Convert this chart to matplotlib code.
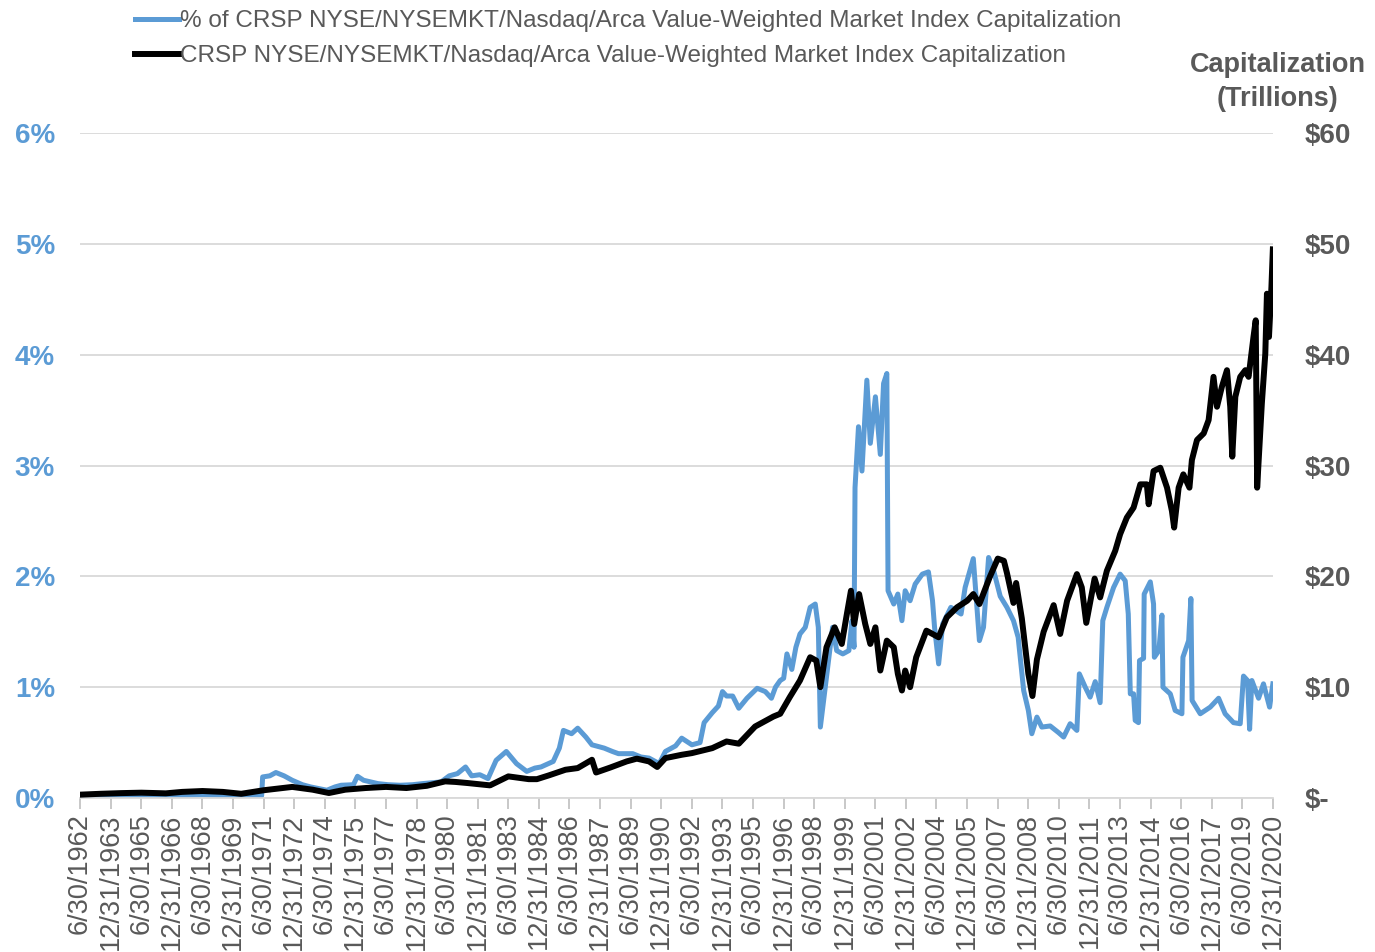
import matplotlib
matplotlib.use('Agg')
import matplotlib.pyplot as plt
from datetime import datetime

plt.rcParams['font.family'] = ['Liberation Sans', 'DejaVu Sans']

# Datos
pct_years = [1962.49, 1963.5, 1964.5, 1965.5, 1966.5, 1967.5, 1968.5, 1969.5, 1970.5, 1971.4,
             1971.45, 1971.8, 1972.1, 1972.5, 1972.9, 1973.4, 1973.8, 1974.6, 1975.0, 1975.3,
             1975.9, 1976.1, 1976.4, 1977.1, 1977.6, 1978.2, 1978.8, 1979.3, 1980.2, 1980.6,
             1981.0, 1981.4, 1981.7, 1982.1, 1982.5, 1982.9, 1983.4, 1983.9, 1984.4, 1984.8,
             1985.1, 1985.7, 1986.0, 1986.2, 1986.6, 1986.9, 1987.3, 1987.6, 1988.2, 1988.6,
             1988.9, 1989.6, 1990.0, 1990.4, 1990.9, 1991.2, 1991.7, 1992.0, 1992.5, 1992.9,
             1993.1, 1993.5, 1993.8, 1994.0, 1994.2, 1994.5, 1994.8, 1995.2, 1995.7, 1996.1,
             1996.4, 1996.6, 1996.83, 1997.0, 1997.16, 1997.4, 1997.6, 1997.8, 1998.06, 1998.3,
             1998.55, 1998.7, 1998.8, 1999.0, 1999.4, 1999.6, 1999.9, 2000.2, 2000.35, 2000.45,
             2000.5, 2000.67, 2000.84, 2001.08, 2001.25, 2001.5, 2001.74, 2001.9, 2002.06, 2002.12,
             2002.4, 2002.6, 2002.8, 2002.96, 2003.2, 2003.45, 2003.8, 2004.1, 2004.3, 2004.4,
             2004.6, 2004.8, 2005.2, 2005.7, 2005.9, 2006.3, 2006.6, 2006.8, 2007.05, 2007.3,
             2007.62, 2007.95, 2008.27, 2008.5, 2008.77, 2009.0, 2009.17, 2009.42, 2009.66, 2010.07,
             2010.48, 2010.73, 2011.05, 2011.38, 2011.5, 2011.79, 2012.03, 2012.28, 2012.52, 2012.65,
             2012.85, 2013.18, 2013.5, 2013.75, 2013.9, 2014.0, 2014.16, 2014.24, 2014.4, 2014.45,
             2014.65, 2014.68, 2014.98, 2015.14, 2015.18, 2015.4, 2015.55, 2015.6, 2015.96, 2016.2,
             2016.53, 2016.58, 2016.86, 2016.97, 2017.03, 2017.43, 2017.92, 2018.33, 2018.65, 2019.06,
             2019.39, 2019.55, 2019.75, 2019.85, 2019.96, 2020.29, 2020.53, 2020.83, 2020.99]
pct_values = [0.02, 0.01, 0.015, 0.01, 0.02, 0.02, 0.03, 0.02, 0.01, 0.02,
              0.19, 0.20, 0.23, 0.20, 0.16, 0.12, 0.10, 0.07, 0.10, 0.115,
              0.12, 0.196, 0.16, 0.13, 0.12, 0.115, 0.12, 0.13, 0.145, 0.20,
              0.22, 0.28, 0.20, 0.21, 0.175, 0.34, 0.42, 0.31, 0.24, 0.27,
              0.28, 0.33, 0.45, 0.61, 0.58, 0.63, 0.55, 0.48, 0.45, 0.42,
              0.40, 0.40, 0.37, 0.36, 0.31, 0.42, 0.47, 0.54, 0.48, 0.50,
              0.68, 0.77, 0.83, 0.96, 0.92, 0.92, 0.81, 0.90, 0.99, 0.96,
              0.90, 1.00, 1.06, 1.08, 1.30, 1.16, 1.36, 1.48, 1.54, 1.72,
              1.75, 1.54, 0.64, 0.94, 1.54, 1.33, 1.30, 1.33, 1.60, 1.36,
              2.80, 3.35, 2.95, 3.77, 3.20, 3.62, 3.10, 3.74, 3.83, 1.87,
              1.75, 1.84, 1.60, 1.87, 1.78, 1.93, 2.02, 2.04, 1.78, 1.54,
              1.21, 1.57, 1.72, 1.66, 1.90, 2.16, 1.42, 1.54, 2.17, 2.05,
              1.82, 1.72, 1.60, 1.45, 0.97, 0.79, 0.58, 0.73, 0.64, 0.65,
              0.59, 0.55, 0.67, 0.61, 1.12, 1.00, 0.91, 1.05, 0.86, 1.60,
              1.72, 1.90, 2.02, 1.96, 1.66, 0.94, 0.94, 0.70, 0.68, 1.24,
              1.26, 1.84, 1.95, 1.75, 1.27, 1.33, 1.65, 1.00, 0.94, 0.79,
              0.76, 1.27, 1.42, 1.80, 0.88, 0.76, 0.82, 0.90, 0.76, 0.68,
              0.67, 1.10, 1.06, 0.62, 1.06, 0.90, 1.03, 0.82, 1.03]

cap_years = [1962.49, 1963.5, 1964.5, 1965.5, 1966.7, 1967.5, 1968.5, 1969.5, 1970.4, 1971.5,
             1972.9, 1973.9, 1974.7, 1975.5, 1976.5, 1977.5, 1978.5, 1979.5, 1980.4, 1980.9,
             1981.5, 1982.6, 1983.5, 1984.5, 1984.9, 1985.5, 1986.3, 1986.9, 1987.6, 1987.8,
             1988.5, 1989.3, 1989.8, 1990.4, 1990.8, 1991.2, 1992.0, 1992.5, 1993.5, 1994.2,
             1994.8, 1995.6, 1996.5, 1996.83, 1997.3, 1997.8, 1998.3, 1998.6, 1998.8, 1999.1,
             1999.5, 1999.85, 2000.1, 2000.3, 2000.46, 2000.7, 2001.0, 2001.25, 2001.5, 2001.74,
             2002.06, 2002.4, 2002.6, 2002.8, 2002.96, 2003.2, 2003.5, 2004.0, 2004.6, 2005.0,
             2005.5, 2006.0, 2006.3, 2006.6, 2007.1, 2007.5, 2007.8, 2007.95, 2008.27, 2008.4,
             2008.68, 2009.0, 2009.2, 2009.42, 2009.75, 2010.24, 2010.56, 2010.9, 2011.38, 2011.62,
             2011.84, 2012.25, 2012.52, 2012.85, 2013.26, 2013.5, 2013.83, 2014.16, 2014.49, 2014.81,
             2014.9, 2015.14, 2015.47, 2015.8, 2016.04, 2016.15, 2016.37, 2016.6, 2016.9, 2017.02,
             2017.27, 2017.6, 2017.84, 2018.08, 2018.25, 2018.49, 2018.74, 2018.9, 2019.0, 2019.15,
             2019.39, 2019.64, 2019.8, 2020.04, 2020.15, 2020.22, 2020.45, 2020.62, 2020.7, 2020.8,
             2020.92, 2020.99]
cap_values = [0.30, 0.38, 0.44, 0.48, 0.42, 0.55, 0.63, 0.55, 0.38, 0.70,
              1.00, 0.75, 0.45, 0.75, 0.90, 1.00, 0.90, 1.10, 1.50, 1.45,
              1.35, 1.14, 1.95, 1.70, 1.70, 2.05, 2.55, 2.70, 3.45, 2.30,
              2.75, 3.30, 3.55, 3.30, 2.80, 3.60, 3.90, 4.05, 4.50, 5.10,
              4.90, 6.45, 7.35, 7.60, 9.10, 10.6, 12.7, 12.4, 10.0, 13.6,
              15.4, 13.9, 16.6, 18.7, 15.7, 18.4, 15.7, 13.9, 15.4, 11.5,
              14.2, 13.6, 11.2, 9.7, 11.5, 10.0, 12.7, 15.1, 14.5, 16.3,
              17.2, 17.8, 18.4, 17.5, 19.9, 21.6, 21.4, 20.3, 17.6, 19.4,
              16.2, 11.2, 9.2, 12.5, 15.0, 17.4, 14.8, 17.8, 20.2, 19.0,
              15.8, 19.8, 18.1, 20.5, 22.3, 23.8, 25.3, 26.2, 28.3, 28.3,
              26.5, 29.5, 29.8, 28.0, 25.9, 24.4, 28.0, 29.2, 28.0, 30.5,
              32.3, 32.9, 34.1, 38.0, 35.3, 37.1, 38.6, 35.3, 30.8, 36.2,
              38.0, 38.6, 38.0, 41.6, 43.1, 28.0, 35.6, 40.1, 45.5, 41.6,
              46.1, 49.5]

x_labels = ['6/30/1962', '12/31/1963', '6/30/1965', '12/31/1966', '6/30/1968', '12/31/1969',
            '6/30/1971', '12/31/1972', '6/30/1974', '12/31/1975', '6/30/1977', '12/31/1978',
            '6/30/1980', '12/31/1981', '6/30/1983', '12/31/1984', '6/30/1986', '12/31/1987',
            '6/30/1989', '12/31/1990', '6/30/1992', '12/31/1993', '6/30/1995', '12/31/1996',
            '6/30/1998', '12/31/1999', '6/30/2001', '12/31/2002', '6/30/2004', '12/31/2005',
            '6/30/2007', '12/31/2008', '6/30/2010', '12/31/2011', '6/30/2013', '12/31/2014',
            '6/30/2016', '12/31/2017', '6/30/2019', '12/31/2020']
pct_ticks = [0, 1, 2, 3, 4, 5, 6]
pct_labels = ['0%', '1%', '2%', '3%', '4%', '5%', '6%']
cap_ticks = [0, 10, 20, 30, 40, 50, 60]
cap_labels = ['$-', '$10', '$20', '$30', '$40', '$50', '$60']

label_pct = '% of CRSP NYSE/NYSEMKT/Nasdaq/Arca Value-Weighted Market Index Capitalization'
label_cap = 'CRSP NYSE/NYSEMKT/Nasdaq/Arca Value-Weighted Market Index Capitalization'


def to_year(s):
    d = datetime.strptime(s, '%m/%d/%Y')
    start = datetime(d.year, 1, 1)
    end = datetime(d.year + 1, 1, 1)
    return d.year + (d - start).days / (end - start).days


x_pos = [to_year(s) for s in x_labels]

blue = '#5B9BD5'
gray = '#595959'
grid = '#D9D9D9'

fig = plt.figure(figsize=(13.75, 9.52), dpi=100)
ax = fig.add_axes([80 / 1375, 1 - 798 / 952, 1193 / 1375, 665 / 952])
ax2 = ax.twinx()

l1, = ax.plot(pct_years, pct_values, color=blue, lw=3.6, solid_joinstyle='round', label=label_pct)
l2, = ax2.plot(cap_years, cap_values, color='black', lw=4.3, solid_joinstyle='round', label=label_cap)

ax.set_xlim(x_pos[0], x_pos[-1])
ax.set_ylim(0, 6)
ax2.set_ylim(0, 60)

ax.set_yticks(pct_ticks, pct_labels, fontsize=20, fontweight='bold', color=blue)
ax2.set_yticks(cap_ticks, cap_labels, fontsize=20, fontweight='bold', color=gray)
ax.set_xticks(x_pos, x_labels, rotation=90, fontsize=19.5, color=gray)

ax.tick_params(axis='y', length=0, pad=18)
ax2.tick_params(axis='y', length=0, pad=23)
ax.tick_params(axis='x', length=8, width=1.2, color='#BFBFBF', pad=3)

ax.grid(axis='y', color=grid, lw=1.3)
ax.set_axisbelow(True)
for a in (ax, ax2):
    for side in ('top', 'left', 'right', 'bottom'):
        a.spines[side].set_visible(False)
ax.spines['bottom'].set_visible(True)
ax.spines['bottom'].set_color(grid)
ax.spines['bottom'].set_linewidth(1.3)

fig.text(1278 / 1375, 1 - 82 / 952, 'Capitalization\n(Trillions)', ha='center', va='center',
         fontsize=19.5, fontweight='bold', color=gray, linespacing=1.35)

fig.legend(handles=[l1, l2], loc='upper left', bbox_to_anchor=(135 / 1375, 1 - 10 / 952),
           frameon=False, fontsize=17.5, handlelength=1.8, handletextpad=0.05,
           borderpad=0, borderaxespad=0, labelspacing=0.55, labelcolor=gray)

fig.savefig('out.png', dpi=100)
